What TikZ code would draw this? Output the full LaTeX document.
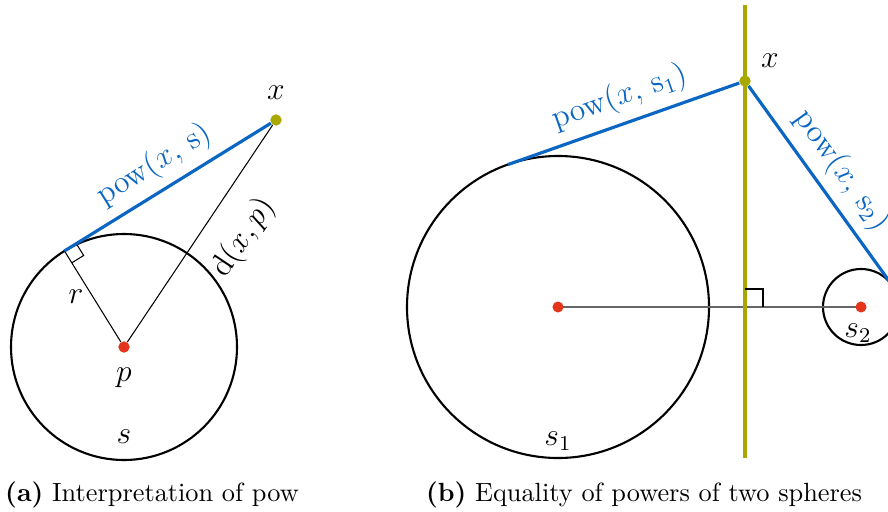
\documentclass[tikz,border=0pt]{standalone}
\usepackage{amsmath, amssymb}
\usepackage{xcolor}
\usepackage{tikz}
\usetikzlibrary{calc, positioning}
\definecolor{powBlue}{RGB}{10,102,194}
\definecolor{axisOlive}{RGB}{168,168,0}
\definecolor{centreRed}{RGB}{228,52,28}
\newcommand{\pw}{\operatorname{pow}}

\begin{document}
\begin{tikzpicture}[x=0.38pt, y=0.38pt, font=\large,
  dot/.style={circle, inner sep=0pt, minimum size=4.2pt},
  sphere/.style={thick},
  tang/.style={powBlue, line width=1.2pt}]
\useasboundingbox (0,0) rectangle (888,511);
\clip (0,0) rectangle (888,511);
% (a)
\node[dot, fill=centreRed] (p) at (124,164) {};
\node[dot, fill=axisOlive] (x) at (276,391) {};
\coordinate (t) at ($(p)+(121.8:113)$);
\draw[sphere] (p.center) circle[radius=113];
\draw[thin] (p) -- (t) node[midway, left=0pt] (r) {$r$};
\draw[thin] (p) -- (x) node[pos=0.58, sloped, below=5pt] (dxp) {$\mathrm{d}(x,p)$};
\coordinate (ta) at ($(t)!5.3pt!(x)$);
\coordinate (tb) at ($(t)!5.3pt!(p)$);
\draw[thin] (ta) -- ($(ta)+(tb)-(t)$) -- (tb);
\draw[tang] (t) -- (x) node[pos=0.5, sloped, above] (powa) {$\pw(x,\,\mathrm{s})$};
\node[dot, fill=centreRed] at (p) {};
\node[dot, fill=axisOlive] at (x) {};
\node[above=2pt of x] (xa) {$x$};
\node[below=2pt of p] (pa) {$p$};
\node (sa) at (124,74) {$s$};
\node[font=\normalsize, anchor=base] (capa) at (152,10) {\textbf{(a)} Interpretation of pow};
% (b)
\coordinate (c1) at (558,204);
\coordinate (c2) at (861,204);
\node[dot, fill=axisOlive] (y) at (745,430) {};
\coordinate (m) at (745,204);
\draw[sphere] (c1) circle[radius=151];
\draw[sphere] (c2) circle[radius=38];
\draw[black!60, semithick] (c1) -- (c2);
\draw[axisOlive, line width=1.2pt] (745,506) -- (745,53);
\draw[thin] ($(m)+(0,18)$) -| ($(m)+(18,0)$);
\coordinate (t1) at ($(c1)+(109.4:151)$);
\coordinate (t2) at ($(c2)+(35.8:38)$);
\draw[tang] (t1) -- (y) node[pos=0.52, sloped, above] (powb) {$\pw(x,\,\mathrm{s}_1)$};
\draw[tang] (y) -- (t2) node[pos=0.5, sloped, above] (powc) {$\pw(x,\,\mathrm{s}_2)$};
\node[dot, fill=centreRed] (p1) at (c1) {};
\node[dot, fill=centreRed] (p2) at (c2) {};
\node[dot, fill=axisOlive] at (y) {};
\node[above right=0pt and 1pt of y] (xb) {$x$};
\node (s1) at (558,70) {$s_1$};
\node (s2) at (858,178) {$s_2$};
\node[font=\normalsize, anchor=base] (capb) at (644,10) {\textbf{(b)} Equality of powers of two spheres};
\end{tikzpicture}
\end{document}
